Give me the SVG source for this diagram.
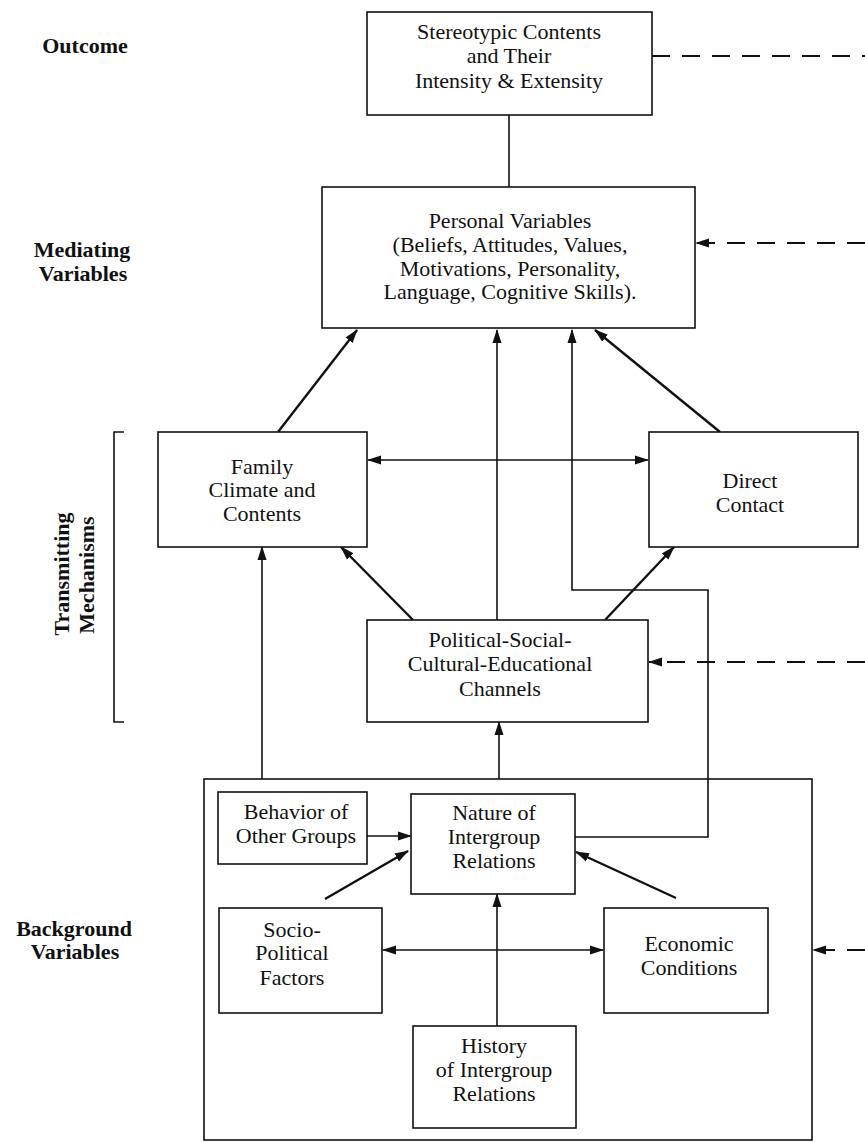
<svg xmlns="http://www.w3.org/2000/svg" width="865" height="1142" viewBox="0 0 865 1142">
<style>
.box{fill:#fff;stroke:#111;stroke-width:1.6}
.t{font-family:"Liberation Serif","Times New Roman",serif;font-size:22px;fill:#111;text-anchor:middle}
.lb{font-family:"Liberation Serif","Times New Roman",serif;font-size:22px;font-weight:bold;fill:#111;text-anchor:middle}
.c{fill:none;stroke:#111;stroke-width:1.6}
.c2{fill:none;stroke:#111;stroke-width:2.4}
.d{fill:none;stroke:#111;stroke-width:1.8;stroke-dasharray:18 12}
</style>
<defs>
<marker id="ah" markerUnits="userSpaceOnUse" markerWidth="14" markerHeight="10" refX="13" refY="5" orient="auto-start-reverse">
<path d="M0,0.5 L14,5 L0,9.5 z" fill="#111"/>
</marker>
</defs>
<rect width="865" height="1142" fill="#fff"/>

<g id="labels">
<text class="lb" x="85" y="53">Outcome</text>
<text class="lb" x="82" y="257">Mediating</text>
<text class="lb" x="83" y="281">Variables</text>
<text class="lb" transform="translate(69,574) rotate(-90)">Transmitting</text>
<text class="lb" transform="translate(94,575) rotate(-90)">Mechanisms</text>
<text class="lb" x="74" y="936">Background</text>
<text class="lb" x="75" y="959">Variables</text>
<path class="c" d="M124,432 H114 V722 H124"/>
</g>

<g id="background-frame"><rect class="box" x="204" y="779" width="608" height="361" fill="none"/></g>

<g id="connectors">
<line class="c" x1="509" y1="115" x2="509" y2="187"/>
<line class="c2" x1="278" y1="432" x2="357" y2="330" marker-end="url(#ah)"/>
<line class="c" x1="497" y1="620" x2="497" y2="330" marker-end="url(#ah)"/>
<polyline class="c" points="575,837 708,837 708,590 572,590 572,330" marker-end="url(#ah)"/>
<line class="c2" x1="720" y1="432" x2="595" y2="330" marker-end="url(#ah)"/>
<line class="c" x1="368" y1="460" x2="648" y2="460" marker-start="url(#ah)" marker-end="url(#ah)"/>
<line class="c2" x1="413" y1="620" x2="341" y2="547" marker-end="url(#ah)"/>
<line class="c2" x1="605" y1="620" x2="674" y2="547" marker-end="url(#ah)"/>
<line class="c" x1="262" y1="779" x2="262" y2="547" marker-end="url(#ah)"/>
<line class="c" x1="499" y1="779" x2="499" y2="722" marker-end="url(#ah)"/>
<line class="c" x1="367" y1="836" x2="411" y2="836" marker-end="url(#ah)"/>
<line class="c2" x1="325" y1="899" x2="408" y2="851" marker-end="url(#ah)"/>
<line class="c2" x1="676" y1="898" x2="576" y2="852" marker-end="url(#ah)"/>
<line class="c" x1="383" y1="950" x2="603" y2="950" marker-start="url(#ah)" marker-end="url(#ah)"/>
<line class="c" x1="497" y1="1026" x2="497" y2="894" marker-end="url(#ah)"/>
<line class="d" x1="652" y1="56" x2="865" y2="56"/>
<line class="d" x1="865" y1="243" x2="696" y2="243" marker-end="url(#ah)"/>
<line class="d" x1="865" y1="662" x2="649" y2="662" marker-end="url(#ah)"/>
<line class="d" x1="865" y1="950" x2="813" y2="950" marker-end="url(#ah)"/>
</g>

<g id="outcome">
<rect class="box" x="367" y="12" width="285" height="103"/>
<text class="t" x="509" y="39">Stereotypic Contents</text>
<text class="t" x="509" y="63">and Their</text>
<text class="t" x="509" y="88">Intensity &amp; Extensity</text>
</g>

<g id="personal">
<rect class="box" x="322" y="187" width="373" height="141"/>
<text class="t" x="510" y="228">Personal Variables</text>
<text class="t" x="510" y="252">(Beliefs, Attitudes, Values,</text>
<text class="t" x="510" y="276">Motivations, Personality,</text>
<text class="t" x="510" y="299">Language, Cognitive Skills).</text>
</g>

<g id="family">
<rect class="box" x="158" y="432" width="209" height="115"/>
<text class="t" x="262" y="474">Family</text>
<text class="t" x="262" y="497">Climate and</text>
<text class="t" x="262" y="521">Contents</text>
</g>

<g id="direct">
<rect class="box" x="649" y="432" width="209" height="115"/>
<text class="t" x="750" y="488">Direct</text>
<text class="t" x="750" y="512">Contact</text>
</g>

<g id="political">
<rect class="box" x="367" y="620" width="281" height="102"/>
<text class="t" x="500" y="647">Political-Social-</text>
<text class="t" x="500" y="671">Cultural-Educational</text>
<text class="t" x="500" y="696">Channels</text>
</g>

<g id="behavior">
<rect class="box" x="218" y="792" width="149" height="72"/>
<text class="t" x="296" y="819">Behavior of</text>
<text class="t" x="296" y="843">Other Groups</text>
</g>

<g id="nature">
<rect class="box" x="411" y="794" width="164" height="100"/>
<text class="t" x="494" y="820">Nature of</text>
<text class="t" x="494" y="844">Intergroup</text>
<text class="t" x="494" y="868">Relations</text>
</g>

<g id="socio">
<rect class="box" x="219" y="908" width="163" height="105"/>
<text class="t" x="292" y="937">Socio-</text>
<text class="t" x="292" y="960">Political</text>
<text class="t" x="292" y="985">Factors</text>
</g>

<g id="economic">
<rect class="box" x="604" y="908" width="164" height="105"/>
<text class="t" x="689" y="951">Economic</text>
<text class="t" x="689" y="975">Conditions</text>
</g>

<g id="history">
<rect class="box" x="413" y="1026" width="163" height="102"/>
<text class="t" x="494" y="1053">History</text>
<text class="t" x="494" y="1077">of Intergroup</text>
<text class="t" x="494" y="1101">Relations</text>
</g>
</svg>
